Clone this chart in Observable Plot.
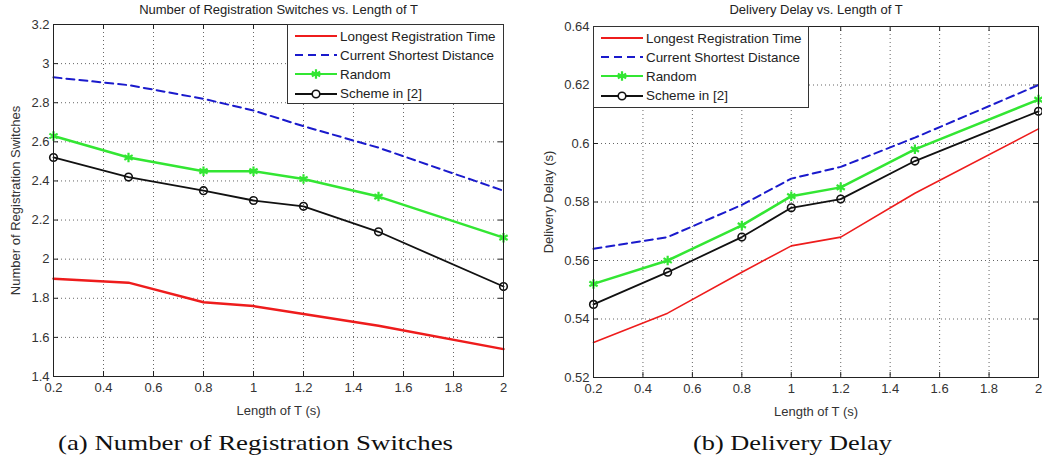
<!DOCTYPE html>
<html><head><meta charset="utf-8">
<script src="https://cdn.jsdelivr.net/npm/d3@7"></script>
<script src="https://cdn.jsdelivr.net/npm/@observablehq/plot@0.6"></script>
<style>
body{margin:0;background:#fff;}
#wrap{position:relative;width:1042px;height:463px;overflow:hidden;font-family:"Liberation Sans",Arial,sans-serif;}
.panel{position:absolute;top:0;}
.legend{position:absolute;background:#fff;border:1px solid #333;box-sizing:border-box;font-size:13.4px;color:#222;padding-top:1.5px;}
.legend .row{display:flex;align-items:center;height:19.2px;white-space:nowrap;}
.legend svg{margin-left:7px;margin-right:3px;flex:none;}
#captions{position:absolute;left:0;top:0;}
</style></head><body><div id="wrap"></div>
<script>
// ---------- data ----------
const tValues = [0.2, 0.5, 0.8, 1.0, 1.2, 1.5, 2.0];
const seriesNames = ["Longest Registration Time", "Current Shortest Distance", "Random", "Scheme in [2]"];

const switchesLongest  = [1.90, 1.88, 1.78, 1.76, 1.72, 1.66, 1.54];
const switchesShortest = [2.93, 2.89, 2.82, 2.76, 2.68, 2.57, 2.35];
const switchesRandom   = [2.63, 2.52, 2.45, 2.45, 2.41, 2.32, 2.11];
const switchesScheme   = [2.52, 2.42, 2.35, 2.30, 2.27, 2.14, 1.86];

const delayLongest  = [0.532, 0.542, 0.556, 0.565, 0.568, 0.583, 0.605];
const delayShortest = [0.564, 0.568, 0.579, 0.588, 0.592, 0.602, 0.620];
const delayRandom   = [0.552, 0.560, 0.572, 0.582, 0.585, 0.598, 0.615];
const delayScheme   = [0.545, 0.556, 0.568, 0.578, 0.581, 0.594, 0.611];

const xTicks = [0.2, 0.4, 0.6, 0.8, 1, 1.2, 1.4, 1.6, 1.8, 2];
const switchesTicks = [1.4, 1.6, 1.8, 2, 2.2, 2.4, 2.6, 2.8, 3, 3.2];
const delayTicks = [0.52, 0.54, 0.56, 0.58, 0.6, 0.62, 0.64];

const xLabel = "Length of T (s)";
const switchesTitle = "Number of Registration Switches vs. Length of T";
const delayTitle = "Delivery Delay vs. Length of T";
const switchesYLabel = "Number of Registration Switches";
const delayYLabel = "Delivery Delay (s)";
const captionA = "(a) Number of Registration Switches";
const captionB = "(b) Delivery Delay";

// ---------- styles ----------
const seriesColors = ["#ee1c1c", "#1a1acc", "#33e633", "#111111"];
const seriesDash = [null, "8,5", null, null];
const seriesSymbols = [null, null, "asterisk", "circle"];
const fmt = d3.format("~g");

function chart({series, yDomain, yTicks, yLabel, title, width, height, m, yLabelOffset, titleDy, widths}) {
  const data = series.flatMap((vals, i) => tValues.map((t, j) => ({t, v: vals[j], s: i})));
  const plotW = width - m.left - m.right, plotH = height - m.top - m.bottom;
  const marks = [
    Plot.gridX(xTicks, {stroke: "#555", strokeOpacity: 0.9, strokeDasharray: "1,3"}),
    Plot.gridY(yTicks, {stroke: "#555", strokeOpacity: 0.9, strokeDasharray: "1,3"}),
    Plot.tickX(xTicks, {x: d => d, insetTop: plotH - 5, stroke: "#222"}),
    Plot.tickX(xTicks, {x: d => d, insetBottom: plotH - 5, stroke: "#222"}),
    Plot.tickY(yTicks, {y: d => d, insetRight: plotW - 5, stroke: "#222"}),
    Plot.tickY(yTicks, {y: d => d, insetLeft: plotW - 5, stroke: "#222"}),
    Plot.axisX(xTicks, {tickSize: 0, tickPadding: 6, tickFormat: fmt, fill: "#333", label: xLabel, labelAnchor: "center", labelArrow: "none", labelOffset: 38}),
    Plot.axisY(yTicks, {tickSize: 0, tickPadding: 4, tickFormat: fmt, fill: "#333", label: yLabel, labelAnchor: "center", labelArrow: "none", labelOffset: yLabelOffset})
  ];
  series.forEach((_, i) => {
    const sd = data.filter(d => d.s === i);
    marks.push(Plot.line(sd, {x: "t", y: "v", stroke: seriesColors[i], strokeWidth: widths[i], strokeDasharray: seriesDash[i] ?? undefined}));
  });
  series.forEach((_, i) => {
    if (!seriesSymbols[i]) return;
    const sd = data.filter(d => d.s === i);
    marks.push(Plot.dot(sd, {x: "t", y: "v", symbol: seriesSymbols[i], r: seriesSymbols[i] === "circle" ? 3.8 : 4.5, stroke: seriesColors[i], strokeWidth: seriesSymbols[i] === "circle" ? 1.6 : 2.2, fill: "none"}));
  });
  marks.push(Plot.frame({stroke: "#222"}));
  marks.push(Plot.text([title], {frameAnchor: "top", lineAnchor: "bottom", dy: titleDy, text: d => d, fill: "#222"}));
  return Plot.plot({
    width, height,
    marginLeft: m.left, marginRight: m.right, marginTop: m.top, marginBottom: m.bottom,
    x: {domain: [0.2, 2]},
    y: {domain: yDomain},
    style: {fontFamily: "'Liberation Sans', Arial, sans-serif", fontSize: "13px", color: "#222", background: "transparent", overflow: "visible"},
    marks
  });
}

const wrap = document.getElementById("wrap");

function panel(node, left) {
  const d = document.createElement("div");
  d.className = "panel";
  d.style.left = left + "px";
  d.appendChild(node);
  wrap.appendChild(d);
}

panel(chart({
  series: [switchesLongest, switchesShortest, switchesRandom, switchesScheme],
  yDomain: [1.4, 3.2], yTicks: switchesTicks, yLabel: switchesYLabel, title: switchesTitle,
  width: 520, height: 420, m: {left: 53, right: 17, top: 24, bottom: 44},
  yLabelOffset: 43, titleDy: -11, widths: [2.5, 2, 2.5, 1.8]
}), 0);

panel(chart({
  series: [delayLongest, delayShortest, delayRandom, delayScheme],
  yDomain: [0.52, 0.64], yTicks: delayTicks, yLabel: delayYLabel, title: delayTitle,
  width: 522, height: 420, m: {left: 73, right: 4, top: 26, bottom: 43},
  yLabelOffset: 50, titleDy: -13, widths: [1.6, 2, 2.5, 1.8]
}), 520);

// ---------- legends ----------
const NS = "http://www.w3.org/2000/svg";
function swatch(i) {
  const svg = document.createElementNS(NS, "svg");
  svg.setAttribute("width", 42); svg.setAttribute("height", 12);
  const line = document.createElementNS(NS, "line");
  line.setAttribute("x1", 0); line.setAttribute("x2", 42);
  line.setAttribute("y1", 6); line.setAttribute("y2", 6);
  line.setAttribute("stroke", seriesColors[i]);
  line.setAttribute("stroke-width", i === 3 ? 1.8 : 2.2);
  if (seriesDash[i]) line.setAttribute("stroke-dasharray", seriesDash[i]);
  svg.appendChild(line);
  if (seriesSymbols[i] === "circle") {
    const c = document.createElementNS(NS, "circle");
    c.setAttribute("cx", 21); c.setAttribute("cy", 6); c.setAttribute("r", 3.8);
    c.setAttribute("fill", "#fff"); c.setAttribute("stroke", seriesColors[i]); c.setAttribute("stroke-width", 1.6);
    svg.appendChild(c);
  } else if (seriesSymbols[i] === "asterisk") {
    const p = document.createElementNS(NS, "path");
    p.setAttribute("transform", "translate(21,6)");
    p.setAttribute("d", d3.symbol(d3.symbolAsterisk, 64)());
    p.setAttribute("stroke", seriesColors[i]); p.setAttribute("stroke-width", 2.2); p.setAttribute("fill", "none");
    svg.appendChild(p);
  }
  return svg;
}
function legend(left, top, width, height) {
  const div = document.createElement("div");
  div.className = "legend";
  Object.assign(div.style, {left: left + "px", top: top + "px", width: width + "px", height: height + "px"});
  seriesNames.forEach((name, i) => {
    const row = document.createElement("div");
    row.className = "row";
    row.appendChild(swatch(i));
    const s = document.createElement("span");
    s.textContent = name;
    row.appendChild(s);
    div.appendChild(row);
  });
  wrap.appendChild(div);
}
legend(287, 24, 217, 80);
legend(593, 26, 216, 82);

// ---------- captions ----------
const cap = document.createElementNS(NS, "svg");
cap.setAttribute("id", "captions");
cap.setAttribute("width", 1042); cap.setAttribute("height", 463);
[[captionA, 58, 395], [captionB, 693, 199]].forEach(([txt, x, len]) => {
  const t = document.createElementNS(NS, "text");
  t.setAttribute("x", x); t.setAttribute("y", 450);
  t.setAttribute("font-family", "'Liberation Serif', 'DejaVu Serif', serif");
  t.setAttribute("font-size", 22);
  t.setAttribute("fill", "#111");
  t.setAttribute("textLength", len);
  t.setAttribute("lengthAdjust", "spacingAndGlyphs");
  t.textContent = txt;
  cap.appendChild(t);
});
wrap.appendChild(cap);
</script>
</body></html>
